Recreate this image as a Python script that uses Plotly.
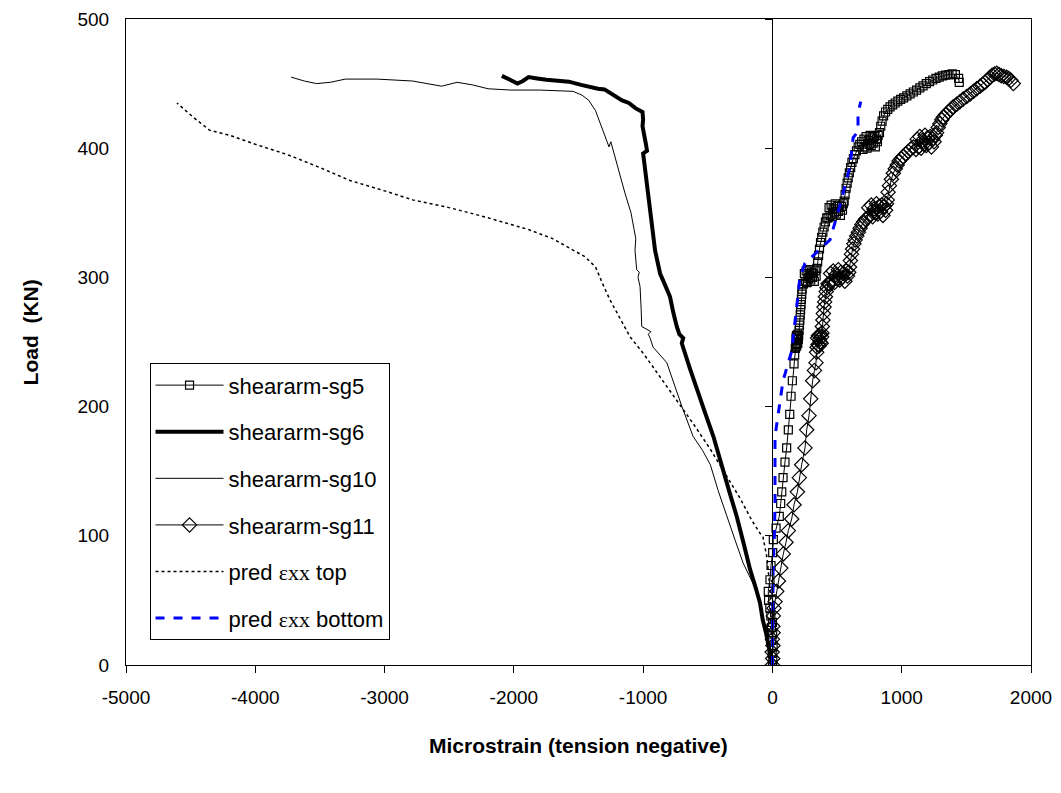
import plotly.graph_objects as go

# 数据：应变（微应变）与荷载（kN）
sg5_x = [0, 3, -2, 5, -4, 2, -8, 0, -12, -20, -30, -32, -19, -11, 2, 7, 28, 53, 64, 72, 82, 97, 110, 123, 134, 144, 154, 167, 172, 177,
         180, 182, 184, 186, 188, 190, 192, 194, 196, 198, 200,
         203, 206, 209, 212, 215, 218, 221, 224, 227, 230, 234,
         240, 247, 254, 261, 268, 275, 282, 289, 296, 303, 310, 317, 324, 331, 338,
         343, 350, 357, 364, 372, 381, 390, 400, 410, 420,
         430, 438, 446, 454, 462, 470, 478, 486, 494, 502, 510, 518, 526, 534, 542, 548,
         555, 562, 570, 578, 586, 595, 605, 615, 626, 638, 650, 663, 676, 690,
         700, 708, 716, 724, 732, 740, 748, 756, 764, 772, 780, 788, 796, 804, 812, 818,
         828, 838, 848, 860, 875, 892, 910, 930, 950, 970, 992, 1015, 1040, 1065, 1090, 1115, 1140, 1165,
         1190, 1215, 1240, 1265, 1290, 1315, 1340, 1365, 1390, 1415, 1440, 1445, 1432]
sg5_y = [0, 4, 9, 14, 19, 24, 29, 33, 38, 44, 50, 57, 66, 77, 87, 97, 106, 115, 125, 134, 145, 157, 168, 182, 194, 208, 220, 233, 240, 245,
         246, 253, 248, 255, 247, 252, 250, 256, 249, 254, 252,
         255, 259, 263, 267, 271, 275, 279, 283, 287, 291, 295,
         295, 303, 297, 305, 296, 302, 299, 306, 298, 304, 300, 303, 297, 305, 301,
         307, 312, 317, 322, 327, 331, 335, 339, 343, 346,
         346, 354, 348, 356, 347, 353, 350, 357, 349, 355, 351, 356, 348, 355, 352, 357,
         359, 364, 369, 373, 377, 381, 385, 389, 392, 395, 398, 401, 403, 405,
         399, 407, 401, 409, 400, 406, 403, 410, 402, 408, 404, 409, 401, 407, 405, 410,
         412, 417, 421, 425, 428, 430, 432, 433.5, 435, 436.5, 437.8, 439, 440.5, 442, 443.5, 445, 446.7,
         448.3, 450, 451.5, 452.8, 454, 455, 456, 456.5, 457, 457.5, 457, 454, 451]

sg6_x = [0, -15, -30, -50, -75, -96, -130, -173, -220, -276, -330, -380, -420, -457, -520, -585, -640, -701, -690, -720,
         -740, -765, -792, -830, -869, -908, -925, -939, -960, -975, -988, -1000, -985, -970, -980, -995, -1005, -1000,
         -1005, -1060, -1110, -1163, -1230, -1299, -1350, -1403, -1480, -1575, -1660, -1748, -1820, -1886, -1930, -1972,
         -2030, -2093]
sg6_y = [0, 8, 16, 25, 35, 48, 60, 74, 93, 115, 133, 151, 164, 177, 195, 213, 230, 249, 253, 256,
         262, 272, 285, 294, 303, 321, 335, 350, 365, 378, 386, 396, 397, 398, 404, 410, 417, 422,
         428, 431, 435, 437, 441, 445.5, 446, 447, 449, 451.5, 452, 453, 454, 455, 452, 450,
         453, 456]

sg10_x = [0, -20, -50, -96, -150, -227, -290, -353, -420, -480, -540, -614, -700, -817, -870, -923, -946, -960, -940,
          -975, -1011, -1015, -1024, -1040, -1030, -1050, -1063, -1057, -1075, -1094, -1140, -1194, -1215, -1237, -1250,
          -1264, -1290, -1318, -1345, -1368, -1420, -1472, -1542, -1800, -2024, -2199, -2320, -2439, -2559, -2680,
          -2783, -3060, -3302, -3420, -3526, -3620, -3723]
sg10_y = [0, 10, 22, 48, 63, 79, 97, 115, 135, 155, 166, 177, 200, 234, 240, 246, 253, 256, 258,
          260, 262, 275, 293, 300, 304, 306, 321, 330, 340, 350, 365, 385, 392, 399, 405,
          401, 408, 414, 422, 429, 437, 441, 444, 445, 445, 446, 449, 451, 448, 450,
          452, 453.5, 453.5, 451, 450, 452, 455]

sg11_x = [0, 2, -2, 4, 0, 6, 3, 7, 12, 20, 33, 46, 64, 84, 105, 123, 149, 167, 193, 208, 226, 252, 265, 283, 296, 311,
          325, 337, 342,
          345, 349, 353, 357, 361, 365, 369, 373, 377, 380,
          383, 386, 390, 394, 399, 404, 410, 416, 422, 430,
          440, 450, 460, 470, 480, 490, 500, 510, 520, 530, 540, 550, 560, 570, 580, 590,
          596, 603, 611, 620, 630, 640, 652, 665, 678, 692, 706, 720,
          735, 745, 755, 765, 775, 785, 795, 805, 815, 825, 835, 845, 855, 865, 875, 882,
          888, 895, 905, 920, 935, 950, 965, 980, 996, 1012, 1030, 1050, 1070, 1090,
          1110, 1120, 1130, 1140, 1150, 1160, 1170, 1180, 1190, 1200, 1210, 1220, 1230, 1240, 1250, 1260,
          1270, 1282, 1295, 1310, 1322, 1340, 1360, 1380, 1399, 1425, 1450, 1475, 1503, 1530, 1555, 1580, 1606,
          1625, 1645, 1665, 1683, 1700, 1718, 1735, 1752, 1770, 1790, 1812, 1828, 1845, 1863]
sg11_y = [0, 5, 10, 15, 20, 25, 30, 38, 44, 49, 57, 65, 75, 86, 95, 104, 113, 124, 134, 145, 155, 168, 182, 193, 206, 220,
          228, 234, 242,
          246, 253, 248, 255, 247, 252, 250, 256, 249, 254,
          257, 262, 267, 272, 277, 281, 285, 289, 292, 295,
          295, 303, 297, 305, 296, 302, 299, 306, 298, 304, 300, 303, 297, 305, 301, 304,
          308, 313, 318, 322, 326, 329, 332, 335, 338, 341, 343, 345,
          346, 354, 348, 356, 347, 353, 350, 357, 349, 355, 351, 356, 348, 355, 352, 357,
          360, 366, 371, 376, 380.6, 384, 387, 390, 392, 393.4, 395.5, 397.5, 399.3, 401,
          399, 407, 401, 409, 400, 406, 403, 410, 402, 408, 404, 409, 401, 407, 405, 410,
          412, 416, 419, 422, 424, 426, 428, 430, 432, 434, 436, 438, 440, 442, 444, 446, 448,
          449.5, 451, 453, 455, 456.5, 457.5, 458, 457, 456, 455.5, 455, 454, 452.5, 450]

top_x = [0, -10, -20, -42, -73, -96, -160, -250, -353, -480, -614, -740, -869, -990, -1101, -1180, -1256, -1300, -1368,
         -1450, -1542, -1700, -1886, -2050, -2230, -2500, -2783, -3000, -3267, -3500, -3750, -4000, -4199, -4355,
         -4480, -4606]
top_y = [0, 30, 60, 83, 99, 102, 112, 129, 146, 167, 187, 205, 223, 240, 254, 268, 282.5, 292, 308,
         316, 321, 330, 337, 342, 347, 354, 360, 367, 375, 385, 395, 403, 410, 414,
         424, 435]

bot_x = [0, 5, 15, 20, 20, 45, 82, 149, 180, 213, 252, 345, 445, 520, 600, 624, 662, 662, 683]
bot_y = [0, 73, 100, 125, 177, 196, 220, 243, 270, 300, 311, 320, 329, 355, 386, 408, 413, 427, 436]

x_ticks = [-5000, -4000, -3000, -2000, -1000, 0, 1000, 2000]
x_labels = ["-5000", "-4000", "-3000", "-2000", "-1000", "0", "1000", "2000"]
y_ticks = [0, 100, 200, 300, 400, 500]

FONT = "Arial, Liberation Sans, sans-serif"
eps = '<span style="font-family:Liberation Serif, Times New Roman, serif">εxx</span>'

fig = go.Figure()

# 各条曲线
fig.add_trace(go.Scatter(x=sg5_x, y=sg5_y, mode="lines+markers", name="sheararm-sg5", legendgroup="a",
                         line=dict(color="black", width=1),
                         marker=dict(symbol="square-open", size=8, color="black", line=dict(width=1.2))))
fig.add_trace(go.Scatter(x=sg6_x, y=sg6_y, mode="lines", name="sheararm-sg6", legendgroup="b",
                         line=dict(color="black", width=4)))
fig.add_trace(go.Scatter(x=sg10_x, y=sg10_y, mode="lines", name="sheararm-sg10", legendgroup="c",
                         line=dict(color="black", width=1)))
fig.add_trace(go.Scatter(x=sg11_x, y=sg11_y, mode="lines+markers", name="sheararm-sg11", legendgroup="d",
                         line=dict(color="black", width=1),
                         marker=dict(symbol="diamond-open", size=11, color="black", line=dict(width=1.2))))
fig.add_trace(go.Scatter(x=top_x, y=top_y, mode="lines", name="pred " + eps + " top", legendgroup="e",
                         line=dict(color="black", width=1.5, dash="dot")))
fig.add_trace(go.Scatter(x=bot_x, y=bot_y, mode="lines", name="pred " + eps + " bottom", legendgroup="f",
                         yaxis="y2", line=dict(color="#0000ff", width=3, dash="dash")))

fig.update_layout(
    width=1053, height=785,
    margin=dict(l=118, r=30, t=11, b=128),
    plot_bgcolor="white", paper_bgcolor="white",
    font=dict(family=FONT, size=20, color="black"),
    showlegend=True,
    xaxis=dict(range=[-5000, 2000], tickvals=x_ticks, ticktext=x_labels, ticks="outside", ticklen=7,
               tickcolor="black", showline=True, linecolor="black", linewidth=1, mirror=True,
               showgrid=False, zeroline=False, automargin=False, ticklabelstandoff=8,
               tickfont=dict(size=19)),
    yaxis=dict(range=[0, 500], tickvals=y_ticks, ticks="", showline=True, linecolor="black", linewidth=1,
               mirror=True, showgrid=False, zeroline=False, automargin=False, ticklabelstandoff=12,
               tickfont=dict(size=19)),
    # x=0 处的竖轴
    yaxis2=dict(range=[0, 500], overlaying="y", anchor="free", position=5 / 7, side="left",
                tickvals=y_ticks, ticks="outside", ticklen=7, tickcolor="black", showticklabels=False,
                showline=True, linecolor="black", linewidth=1, showgrid=False, zeroline=False,
                automargin=False),
    legend=dict(x=0.026, y=0.467, xanchor="left", yanchor="top", bgcolor="white",
                bordercolor="black", borderwidth=1, font=dict(size=22), tracegroupgap=15,
                itemwidth=68),
    annotations=[
        dict(text="<b>Microstrain (tension negative)</b>", xref="paper", yref="paper", x=0.5, y=-0.124,
             showarrow=False, xanchor="center", yanchor="middle", font=dict(size=21)),
        dict(text="<b>Load  (KN)</b>", xref="paper", yref="paper", x=-0.106, y=0.515, textangle=-90,
             showarrow=False, xanchor="center", yanchor="middle", font=dict(size=21)),
    ],
)

fig.write_html("out.html")
